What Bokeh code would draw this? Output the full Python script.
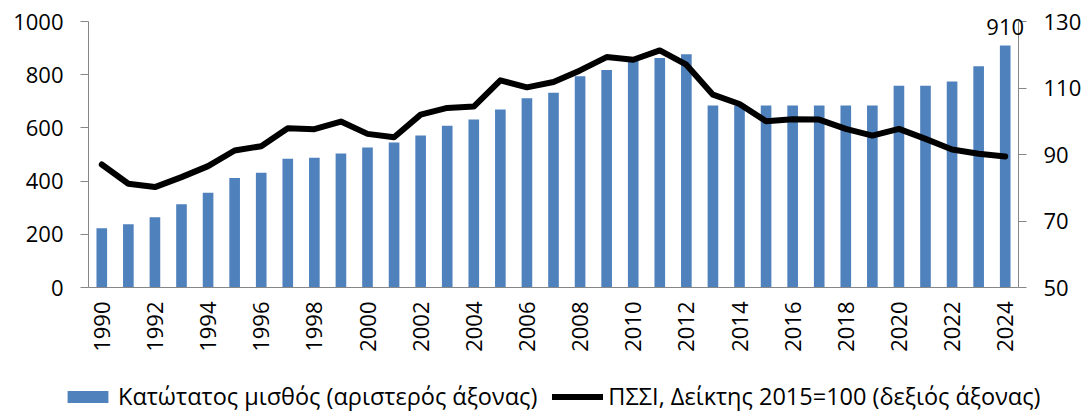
import math
from bokeh.plotting import figure
from bokeh.models import (Range1d, LinearAxis, FixedTicker, Legend, LegendItem, Label)
from bokeh.embed import file_html
from bokeh.resources import INLINE

years = list(range(1990, 2025))
wage = [223, 238, 264, 313, 356, 412, 431, 484, 488, 504,
        526, 545, 571, 608, 632, 669, 711, 732, 794, 818,
        862, 863, 877, 684, 684, 684, 684, 684, 684, 684,
        758, 758, 774, 832, 910]
cpi = [87.0, 81.2, 80.2, 83.2, 86.5, 91.2, 92.5, 97.9, 97.6, 99.9,
       96.2, 95.2, 102.0, 104.0, 104.4, 112.3, 110.2, 111.8, 115.3, 119.3,
       118.5, 121.3, 117.0, 108.0, 105.2, 100.0, 100.6, 100.5, 97.7, 95.7,
       97.7, 94.7, 91.5, 90.2, 89.4]
left_ticks = [0, 200, 400, 600, 800, 1000]
right_ticks = [50, 70, 90, 110, 130]
year_ticks = list(range(1990, 2025, 2))
label_wage = "Κατώτατος μισθός (αριστερός άξονας)"
label_cpi = "ΠΣΣΙ, Δείκτης 2015=100 (δεξιός άξονας)"

FONT = "Open Sans"
AXIS_COL = "#868686"
BAR_COL = "#4F81BD"

# canvas and plotting-area geometry (pixels)
W, H = 1089, 412
L, R, T, B = 88, 1018, 21, 287

# the frame spans the whole canvas; axes sit at fixed data locations inside it
x0, x1 = years[0] - 0.5, years[-1] + 0.5
ux = (x1 - x0) / (R - L)
xr = Range1d(x0 - L * ux, x1 + (W - R) * ux)

def span(lo, hi):
    u = (hi - lo) / (B - T)
    return Range1d(lo - (H - B) * u, hi + T * u)

p = figure(width=W, height=H, output_backend="svg", toolbar_location=None,
           x_range=xr, y_range=span(left_ticks[0], left_ticks[-1]),
           min_border=0, outline_line_color=None)
p.extra_y_ranges = {"right": span(right_ticks[0], right_ticks[-1])}
p.grid.visible = False
p.background_fill_color = "white"
p.border_fill_color = "white"

bars = p.vbar(x=years, top=wage, width=0.4, fill_color=BAR_COL, line_color=None)
line = p.line(x=years, y=cpi, y_range_name="right", line_color="black",
              line_width=6, line_join="round", line_cap="round")

def style(ax):
    ax.axis_line_color = AXIS_COL
    ax.major_tick_line_color = AXIS_COL
    ax.minor_tick_line_color = None
    ax.major_label_text_font = FONT
    ax.major_label_text_font_size = "22px"
    ax.major_label_text_color = "black"

yl = p.yaxis[0]
yl.ticker = FixedTicker(ticks=left_ticks)
yl.bounds = (left_ticks[0], left_ticks[-1])
yl.fixed_location = x0
style(yl)
yl.major_tick_out = 8
yl.major_tick_in = 0
yl.major_label_standoff = 17

yr = LinearAxis(y_range_name="right", ticker=FixedTicker(ticks=right_ticks),
                bounds=(right_ticks[0], right_ticks[-1]), fixed_location=x1)
style(yr)
yr.major_tick_out = 8
yr.major_tick_in = 0
yr.major_label_standoff = 17
p.add_layout(yr, "right")

xa = p.xaxis[0]
xa.ticker = FixedTicker(ticks=year_ticks)
xa.bounds = (x0, x1)
xa.fixed_location = left_ticks[0]
style(xa)
xa.major_tick_out = 0
xa.major_tick_in = 0
xa.major_label_orientation = math.pi / 2
xa.major_label_standoff = 14

p.add_layout(Label(x=years[-1], y=wage[-1], text=str(wage[-1]), text_align="center",
                   text_baseline="alphabetic", y_offset=18, text_font=FONT,
                   text_font_size="22px", text_color="black"))

legend = Legend(items=[LegendItem(label=label_wage, renderers=[bars]),
                       LegendItem(label=label_cpi, renderers=[line])],
                orientation="horizontal", location=(62, 0),
                label_text_font=FONT, label_text_font_size="23.5px",
                label_text_color="black", glyph_width=51, glyph_height=15,
                label_standoff=5, spacing=15, padding=0, margin=0,
                border_line_color=None, background_fill_alpha=0)
p.add_layout(legend, "center")

open("out.html", "w").write(file_html(p, INLINE))
